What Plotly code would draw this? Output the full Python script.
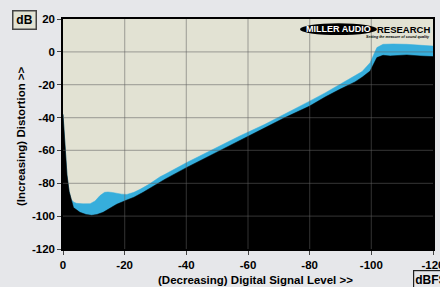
import plotly.graph_objects as go

# ---- data ----
level_upper = [0, -0.5, -1.3, -2.0, -2.7, -3.5, -4.4, -6.5, -8.8, -10.4, -12, -13.5, -14.6, -16, -17.4,
               -19, -20.7, -23, -25, -28, -31.5, -33.1, -40, -50, -57, -65.5, -72, -80, -85, -89.8,
               -94.7, -97, -99.6, -101.8, -103.8, -107, -111.5, -116, -120]
thd_upper = [-38, -53, -75, -85, -90, -91.5, -92.2, -92.5, -92.4, -90.8, -87.5, -85.5, -85.3, -85.6, -86.1,
             -86.6, -86.8, -85.5, -83.7, -80.5, -76, -74.5, -67.5, -58, -51.5, -44.1, -38, -30, -25, -19.8,
             -15, -12, -6.6, 2.6, 4.6, 4.8, 4.6, 4.2, 3.5]

level_lower = [0, -0.5, -1.3, -2.0, -2.7, -3.4, -5.5, -7.5, -9.3, -11, -13, -15, -17.4, -20.7, -23, -26,
               -31.5, -33.1, -40, -50, -57, -65.5, -72, -80, -85, -89.8, -94.7, -97, -99.6, -101.8,
               -103.8, -106.1, -111.5, -115.8, -120]
thd_lower = [-38, -53, -75, -85, -90, -94.8, -97.7, -99, -99.5, -99, -97.7, -95.5, -92.8, -90.2, -88.5, -85.5,
             -79, -77.5, -70.5, -61, -54.2, -46.1, -40, -33, -27.5, -22.8, -18.3, -15.5, -11.7, -3.5,
             -2.1, -2.5, -1.9, -2.5, -2.9]

x_ticks = [0, -20, -40, -60, -80, -100, -120]
y_ticks = [20, 0, -20, -40, -60, -80, -100, -120]
y_min, y_max = -120, 20

BLUE = "#36AEDC"
FONT = "Liberation Sans, Arial, sans-serif"
PAGE_BG = "#E6E7EA"

fig = go.Figure()
# blue band (upper curve filled to bottom)
fig.add_trace(go.Scatter(x=level_upper, y=[y_min] * len(level_upper), mode="lines",
                         line=dict(width=0), hoverinfo="skip", showlegend=False))
fig.add_trace(go.Scatter(x=level_upper, y=thd_upper, mode="lines", fill="tonexty",
                         fillcolor=BLUE, line=dict(width=0.5, color=BLUE), showlegend=False))
# black area (lower curve filled to bottom)
fig.add_trace(go.Scatter(x=level_lower, y=[y_min] * len(level_lower), mode="lines",
                         line=dict(width=0), hoverinfo="skip", showlegend=False))
fig.add_trace(go.Scatter(x=level_lower, y=thd_lower, mode="lines", fill="tonexty",
                         fillcolor="#000000", line=dict(width=0.5, color="#000000"), showlegend=False))

shapes = []
grid_col = "rgba(95,95,95,0.45)"
for xv in x_ticks[1:-1]:
    shapes.append(dict(type="line", xref="x", yref="y", x0=xv, x1=xv, y0=y_min, y1=y_max,
                       line=dict(color=grid_col, width=1.2), layer="above"))
for yv in y_ticks[1:-1]:
    shapes.append(dict(type="line", xref="x", yref="y", x0=0, x1=-120, y0=yv, y1=yv,
                       line=dict(color=grid_col, width=1.2), layer="above"))
# logo ellipse
shapes.append(dict(type="circle", xref="paper", yref="paper", x0=0.6405, x1=0.8486, y0=0.930, y1=0.981,
                   fillcolor="#000000", line=dict(width=0), layer="above"))

annotations = [
    dict(text="<b>MILLER AUDIO</b>", xref="paper", yref="paper", x=0.745, y=0.9555, showarrow=False,
         font=dict(family=FONT, size=9, color="white"), xanchor="center", yanchor="middle"),
    dict(text="<b>RESEARCH</b>", xref="paper", yref="paper", x=(432 - 63) / 370, y=0.9555, showarrow=False,
         font=dict(family=FONT, size=9.5, color="black"), xanchor="right", yanchor="middle"),
    dict(text="<b><i>Setting the measure of sound quality</i></b>", xref="paper", yref="paper",
         x=(432 - 63) / 370, y=0.922, showarrow=False, font=dict(family=FONT, size=3.6, color="black"),
         xanchor="right", yanchor="middle"),
    dict(text="<b>(Decreasing) Digital Signal Level &gt;&gt;</b>", xref="paper", yref="paper",
         x=(255 - 63) / 370, y=(249 - 280) / 230, showarrow=False,
         font=dict(family=FONT, size=11.5, color="black"), xanchor="center", yanchor="middle"),
    dict(text="<b>(Increasing) Distortion &gt;&gt;</b>", xref="paper", yref="paper",
         x=(21 - 63) / 370, y=(249 - 136) / 230, showarrow=False, textangle=-90,
         font=dict(family=FONT, size=11.5, color="black"), xanchor="center", yanchor="middle"),
    dict(text="<b>dB</b>", xref="paper", yref="paper", x=(24 - 63) / 370, y=(249 - 20) / 230,
         showarrow=False, font=dict(family=FONT, size=12, color="black"), xanchor="center",
         yanchor="middle", bgcolor="#E2E2D3", bordercolor="#444444", borderwidth=1.5,
         width=20, height=15, borderpad=1),
    dict(text="<b>dBFS</b>", xref="paper", yref="paper", x=(413 - 63) / 370, y=(249 - 279) / 230,
         showarrow=False, font=dict(family=FONT, size=12, color="black"), xanchor="left",
         yanchor="middle", bgcolor=PAGE_BG, bordercolor="#222222", borderwidth=1.2,
         width=34, height=15, borderpad=1, align="left"),
]

fig.update_layout(
    width=440, height=287,
    margin=dict(l=63, r=7, t=19, b=38, autoexpand=False),
    paper_bgcolor=PAGE_BG,
    plot_bgcolor="#E2E2D3",
    shapes=shapes,
    annotations=annotations,
    showlegend=False,
    xaxis=dict(range=[0, -120], tickvals=x_ticks, ticktext=[f"<b>{v}</b>" for v in x_ticks],
               showgrid=False, zeroline=False, showline=True, linecolor="black", linewidth=1.5,
               mirror=True, ticks="outside", ticklen=4, tickcolor="#444444", ticklabeloverflow="allow",
               automargin=False,
               tickfont=dict(family=FONT, size=11.5, color="black"), fixedrange=True),
    yaxis=dict(range=[y_min, y_max], tickvals=y_ticks, ticktext=[f"<b>{v}</b>" for v in y_ticks],
               showgrid=False, zeroline=False, showline=True, linecolor="black", linewidth=1.5,
               mirror=True, ticks="outside", ticklen=4, tickcolor="#444444", ticklabeloverflow="allow",
               automargin=False,
               tickfont=dict(family=FONT, size=11.5, color="black"), fixedrange=True),
)

fig.write_html(
    "out.html",
    config={"displayModeBar": False},
    post_script=(
        "document.body.style.margin='0';document.body.style.padding='0';"
        f"document.body.style.background='{PAGE_BG}';document.body.style.overflow='hidden';"
    ),
)
